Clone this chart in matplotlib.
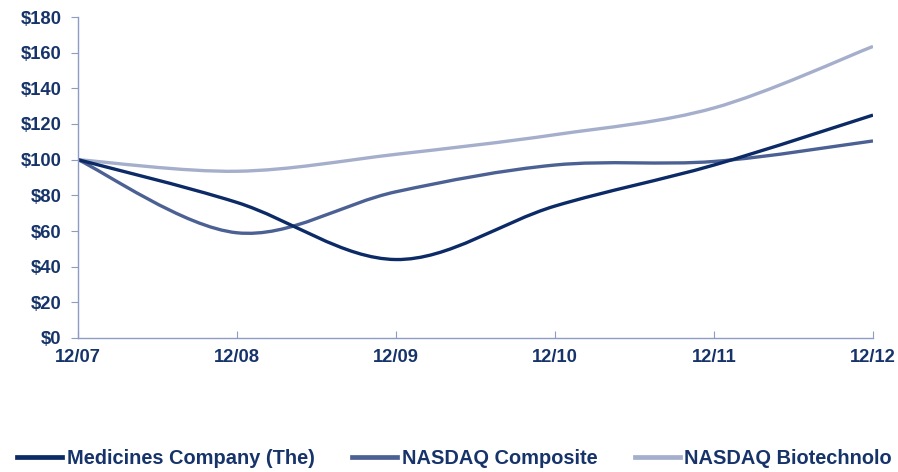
import numpy as np
import matplotlib
matplotlib.use("Agg")
import matplotlib.pyplot as plt
from matplotlib.path import Path
from matplotlib.patches import PathPatch
from matplotlib.lines import Line2D

# data
periods = ["12/07", "12/08", "12/09", "12/10", "12/11", "12/12"]
medicines = [100, 76, 44, 74, 97, 125]
nasdaq_composite = [100, 59, 82, 97, 99, 110.5]
nasdaq_biotech = [100, 93.5, 103, 114, 129, 163.5]
# the third legend entry is cut short in the source image itself
series_names = ["Medicines Company (The)", "NASDAQ Composite", "NASDAQ Biotechnolo"]
y_ticks = [0, 20, 40, 60, 80, 100, 120, 140, 160, 180]

COLORS = ["#0B2A66", "#4C6193", "#A5AFCC"]
TEXT = "#16336A"
AXIS = "#8E9CC4"

plt.rcParams["font.family"] = ["Liberation Sans", "DejaVu Sans"]
plt.rcParams["font.weight"] = "bold"


def smooth_path(xs, ys):
    # Excel-style smoothed line: cubic Bezier through each point
    pts = np.column_stack([xs, ys]).astype(float)
    n = len(pts)
    verts = [pts[0]]
    codes = [Path.MOVETO]
    for i in range(n - 1):
        p_prev = pts[max(i - 1, 0)]
        p0, p1 = pts[i], pts[i + 1]
        p_next = pts[min(i + 2, n - 1)]
        c1 = p0 + (p1 - p_prev) / 6.0
        c2 = p1 - (p_next - p0) / 6.0
        verts += [c1, c2, p1]
        codes += [Path.CURVE4] * 3
    return Path(verts, codes)


fig = plt.figure(figsize=(8.98, 4.72), dpi=100)
ax = fig.add_axes([78 / 898, 1 - 338 / 472, (873 - 78) / 898, (338 - 17) / 472])

x = np.arange(len(periods))
for vals, col in [(nasdaq_biotech, COLORS[2]), (nasdaq_composite, COLORS[1]), (medicines, COLORS[0])]:
    ax.add_patch(PathPatch(smooth_path(x, vals), facecolor="none", edgecolor=col,
                           lw=2.4, capstyle="butt", joinstyle="round"))

ax.set_xlim(0, len(periods) - 1)
ax.set_ylim(0, 180)
ax.set_xticks(x)
ax.set_xticklabels(periods)
ax.set_yticks(y_ticks)
ax.set_yticklabels([f"${v}" for v in y_ticks])

for side in ["top", "right"]:
    ax.spines[side].set_visible(False)
for side in ["left", "bottom"]:
    ax.spines[side].set_color(AXIS)
    ax.spines[side].set_linewidth(1.0)
ax.tick_params(axis="x", direction="in", length=5, color=AXIS, labelsize=13.2,
               labelcolor=TEXT, pad=8)
ax.tick_params(axis="y", direction="out", length=5, color=AXIS, labelsize=13.2,
               labelcolor=TEXT, pad=7)
for lab in ax.get_xticklabels() + ax.get_yticklabels():
    lab.set_fontweight("bold")

handles = [Line2D([], [], color=c, lw=3.4) for c in COLORS]
fig.legend(handles, series_names, loc="center left", bbox_to_anchor=(17 / 898, 1 - 458 / 472),
           ncol=3, frameon=False, borderpad=0, borderaxespad=0,
           handlelength=2.25, handletextpad=0.25, columnspacing=1.85,
           prop={"size": 14.4, "weight": "bold"}, labelcolor=TEXT)

fig.savefig("out.png", dpi=100)
